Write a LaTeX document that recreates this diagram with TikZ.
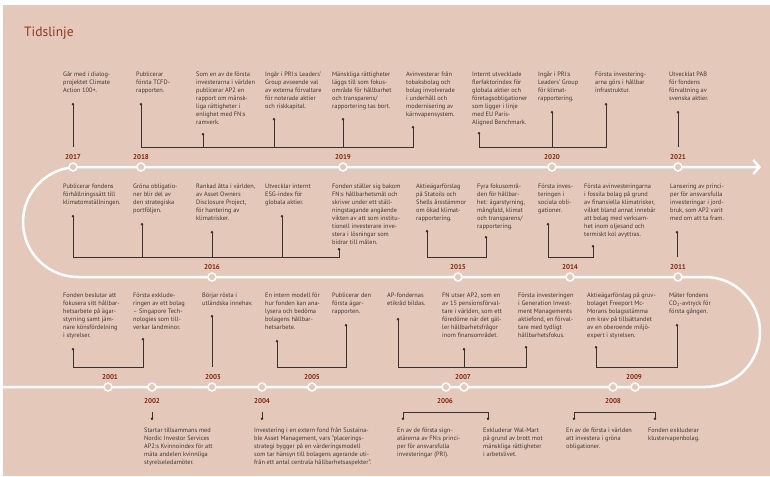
\documentclass[tikz,border=0pt]{standalone}
\usepackage{fontspec}
\setmainfont{PT Sans}
\usetikzlibrary{arrows.meta}
\definecolor{bg}{HTML}{E4C9BA}
\definecolor{txtc}{HTML}{3F3634}
\definecolor{yrc}{HTML}{862510}
\definecolor{linec}{HTML}{3A302C}
\definecolor{titc}{HTML}{8A3A22}
\tikzset{
 txt/.style={anchor=north west, inner sep=0pt, align=left, font=\fontsize{6.35}{8}\selectfont, text=txtc},
 yr/.style={font=\bfseries\fontsize{7}{8}\selectfont, text=yrc, inner sep=0pt},
 track/.style={draw=white, line width=2.5pt},
 ring/.style={circle, draw=white, fill=bg, line width=1.5pt, minimum size=8pt, inner sep=0pt},
 conn/.style={draw=linec, line width=0.85pt, -{Circle[length=2.4pt]}},
 bconn/.style={draw=linec, line width=0.85pt, {Circle[length=2.4pt]}-{Circle[length=2.4pt]}},
 bar/.style={draw=linec, line width=0.85pt},
}
\begin{document}
\begin{tikzpicture}[x=1pt,y=1pt]
\useasboundingbox (0,0) rectangle (770,-476);
\fill[white] (0,0) rectangle (770,-476);
\fill[bg] (3,-5) rectangle (770,-476);
\node[anchor=base west, inner sep=0pt, font=\fontsize{13.5}{15}\selectfont, text=titc] (title) at (24,-37) {Tidslinje};

% track
\draw[track, -{Straight Barb[length=6pt,width=14pt]}] (3,-387) -- (705,-387) arc[start angle=-90,end angle=90,radius=55] -- (78,-277) arc[start angle=270,end angle=90,radius=55] -- (761,-167);

% rings
\foreach \n/\x/\y in {k2017/73/167,k2018/141/167,k2019/343/167,k2020/552/167,k2021/678/167,
 k2016/212/277,k2015/458/277,k2014/570/277,k2011/678/277,
 k2001/108/387,k2002/152/387,k2003/212/387,k2004/262/387,k2005/312/387,k2006/446/387,k2007/464/387,k2008/613/387,k2009/635/387}
 \node[ring] (\n) at (\x,-\y) {};

% years
\foreach \n/\x/\y in {2017/73/157,2018/141/157,2019/343/157,2020/552/157,2021/678/157,
 2016/212/267,2015/458/267,2014/570/267,2011/678/267,
 2001/110/377,2003/213/377,2005/312/377,2007/463/377,2009/634/377,
 2002/152/401,2004/262/401,2006/445/401,2008/613/401}
 \node[yr] (y\n) at (\x,-\y) {\n};

% ---------- row 1 texts
\node[txt] (t1) at (63,-72) {Går med i dialog-\\projektet Climate\\Action 100+.};
\node[txt] (t2) at (136,-72) {Publicerar\\första TCFD-\\rapporten.};
\node[txt] (t3) at (196,-72) {Som en av de första\\investerarna i världen\\publicerar AP2 en\\rapport om mänsk-\\liga rättigheter i\\enlighet med FN:s\\ramverk.};
\node[txt] (t4) at (265,-72) {Ingår i PRI:s Leaders’\\Group avseende val\\av externa förvaltare\\för noterade aktier\\och riskkapital.};
\node[txt] (t5) at (332,-72) {Mänskliga rättigheter\\läggs till som fokus-\\område för hållbarhet\\och transparens/\\rapportering tas bort.};
\node[txt] (t6) at (406,-72) {Avinvesterar från\\tobaksbolag och\\bolag involverade\\i underhåll och\\modernisering av\\kärnvapensystem.};
\node[txt] (t7) at (472,-72) {Internt utvecklade\\flerfaktorindex för\\globala aktier och\\företagsobligationer\\som ligger i linje\\med EU Paris-\\Aligned Benchmark.};
\node[txt] (t8) at (538,-72) {Ingår i PRI:s\\Leaders’ Group\\för klimat-\\rapportering.};
\node[txt] (t9) at (595,-72) {Första investering-\\arna görs i hållbar\\infrastruktur.};
\node[txt] (t10) at (669,-72) {Utvecklat PAB\\för fondens\\förvaltning av\\svenska aktier.};

% ---------- row 2 texts
\node[txt] (s1) at (63,-183.5) {Publicerar fondens\\förhållningssätt till\\klimatomställningen.};
\node[txt] (s2) at (133,-183.5) {Gröna obligatio-\\ner blir del av\\den strategiska\\portföljen.};
\node[txt] (s3) at (196,-183.5) {Rankad åtta i världen,\\av Asset Owners\\Disclosure Project,\\för hantering av\\klimatrisker.};
\node[txt] (s4) at (265,-183.5) {Utvecklar internt\\ESG-index för\\globala aktier.};
\node[txt] (s5) at (332,-183.5) {Fonden ställer sig bakom\\FN:s hållbarhetsmål och\\skriver under ett ställ-\\ningstagande angående\\vikten av att som institu-\\tionell investerare inve-\\stera i lösningar som\\bidrar till målen.};
\node[txt] (s6) at (416,-183.5) {Aktieägarförslag\\på Statoils och\\Shells årsstämmor\\om ökad klimat-\\rapportering.};
\node[txt] (s7) at (477,-183.5) {Fyra fokusområ-\\den för hållbar-\\het: ägarstyrning,\\mångfald, klimat\\och transparens/\\rapportering.};
\node[txt] (s8) at (538,-183.5) {Första inves-\\teringen i\\sociala obli-\\gationer.};
\node[txt] (s9) at (584,-183.5) {Första avinvesteringarna\\i fossila bolag på grund\\av finansiella klimatrisker,\\vilket bland annat innebär\\att bolag med verksam-\\het inom oljesand och\\termiskt kol avyttras.};
\node[txt] (s10) at (670,-183.5) {Lansering av princi-\\per för ansvarsfulla\\investeringar i jord-\\bruk, som AP2 varit\\med om att ta fram.};

% ---------- row 3 texts
\node[txt] (r1) at (63,-292.5) {Fonden beslutar att\\fokusera sitt hållbar-\\hetsarbete på ägar-\\styrning samt jäm-\\nare könsfördelning\\i styrelser.};
\node[txt] (r2) at (133,-292.5) {Första exklude-\\ringen av ett bolag\\– Singapore Tech-\\nologies som till-\\verkar landminor.};
\node[txt] (r3) at (202,-292.5) {Börjar rösta i\\utländska innehav.};
\node[txt] (r4) at (265,-292.5) {En intern modell för\\hur fonden kan ana-\\lysera och bedöma\\bolagens hållbar-\\hetsarbete.};
\node[txt] (r5) at (332,-292.5) {Publicerar den\\första ägar-\\rapporten.};
\node[txt] (r6) at (387,-292.5) {AP-fondernas\\etikråd bildas.};
\node[txt] (r7) at (442,-292.5) {FN utser AP2, som en\\av 15 pensionsförval-\\tare i världen, som ett\\föredöme när det gäl-\\ler hållbarhetsfrågor\\inom finansområdet.};
\node[txt] (r8) at (518,-292.5) {Första investeringen\\i Generation Invest-\\ment Managements\\aktiefond, en förval-\\tare med tydligt\\hållbarhetsfokus.};
\node[txt] (r9) at (587,-292.5) {Aktieägarförslag på gruv-\\bolaget Freeport Mc-\\Morans bolagsstämma\\om krav på tillsättandet\\av en oberoende miljö-\\expert i styrelsen.};
\node[txt] (r10) at (669,-292.5) {Mäter fondens\\CO\textsubscript{2}-avtryck för\\första gången.};

% ---------- row 4 texts
\node[txt] (q1) at (144,-427.5) {Startar tillsammans med\\Nordic Investor Services\\AP2:s Kvinnoindex för att\\mäta andelen kvinnliga\\styrelseledamöter.};
\node[txt] (q2) at (254,-427.5) {Investering i en extern fond från Sustaina-\\ble Asset Management, vars ”placerings-\\strategi bygger på en värderingsmodell\\som tar hänsyn till bolagens agerande uti-\\från ett antal centrala hållbarhetsaspekter”.};
\node[txt] (q3) at (397,-427.5) {En av de första sign-\\atärerna av FN:s princi-\\per för ansvarsfulla\\investeringar (PRI).};
\node[txt] (q4) at (483,-427.5) {Exkluderar Wal-Mart\\på grund av brott mot\\mänskliga rättigheter\\i arbetslivet.};
\node[txt] (q5) at (566,-427.5) {En av de första i världen\\att investera i gröna\\obligationer.};
\node[txt] (q6) at (648,-427.5) {Fonden exkluderar\\klustervapenbolag.};

% ---------- connectors row 1
\foreach \n/\x/\t in {a1/73/103,a2/141/103,a3/203/133,a4/274/118,a5/343/118,a6/413/126,a7/479/132,a8/552/111,a9/606/103,a10/678/111}{
 \coordinate (\n top) at (\x,-\t); \coordinate (\n bot) at (\x,-147);}
\draw[conn] (a1bot) -- (a1top);
\draw[bconn] (a2top) -- (a2bot) -- (a6bot) -- (a6top);
\draw[conn] (a3bot) -- (a3top);
\draw[conn] (a4bot) -- (a4top);
\draw[conn] (a5bot) -- (a5top);
\draw[bconn] (a7top) -- (a7bot) -- (a9bot) -- (a9top);
\draw[conn] (a8bot) -- (a8top);
\draw[conn] (a10bot) -- (a10top);

% row 2
\foreach \n/\x/\t in {b1/73/215,b2/142/223,b3/212/231,b4/282/215,b5/339/248,b6/427/230,b7/486/236,b8/548/223,b9/593/245,b10/677/231}{
 \coordinate (\n top) at (\x,-\t); \coordinate (\n bot) at (\x,-257);}
\draw[bconn] (b1top) -- (b1bot) -- (b5bot) -- (b5top);
\draw[conn] (b2bot) -- (b2top);
\draw[conn] (b3bot) -- (b3top);
\draw[conn] (b4bot) -- (b4top);
\draw[bconn] (b6top) -- (b6bot) -- (b7bot) -- (b7top);
\draw[bconn] (b8top) -- (b8bot) -- (b9bot) -- (b9top);
\draw[conn] (b10bot) -- (b10top);

% row 3
\foreach \n/\x/\t in {c1/73/348,c2/143/338,c3/212/315,c4/277/340,c5/346/324,c6/398/318,c7/464/348,c8/526/346,c9/596/346,c10/677/324}{
 \coordinate (\n top) at (\x,-\t); \coordinate (\n bot) at (\x,-367);}
\draw[bconn] (c1top) -- (c1bot) -- (c2bot) -- (c2top);
\draw[conn] (c3bot) -- (c3top);
\draw[bconn] (c4top) -- (c4bot) -- (c5bot) -- (c5top);
\draw[bconn] (c6top) -- (c6bot) -- (c8bot) -- (c8top);
\draw[conn] (c7bot) -- (c7top);
\draw[bconn] (c9top) -- (c9bot) -- (c10bot) -- (c10top);

% row 4
\foreach \n/\x in {d1/152,d2/262,d3/403,d4/488,d5/574,d6/655}{
 \coordinate (\n top) at (\x,-412); \coordinate (\n bot) at (\x,-420);}
\draw[conn] (d1top) -- (d1bot);
\draw[conn] (d2top) -- (d2bot);
\draw[bconn] (d3bot) -- (d3top) -- (d4top) -- (d4bot);
\draw[bconn] (d5bot) -- (d5top) -- (d6top) -- (d6bot);
\end{tikzpicture}
\end{document}
